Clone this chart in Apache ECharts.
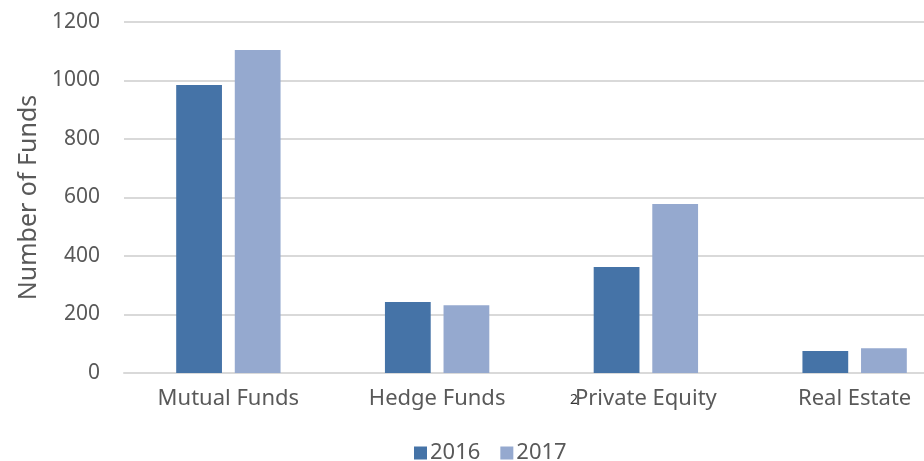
<!DOCTYPE html>
<html>
<head>
<meta charset="utf-8">
<script src="https://cdn.jsdelivr.net/npm/echarts@6/dist/echarts.min.js"></script>
<style>
  html, body { margin: 0; padding: 0; background: #fff; }
  #chart { width: 924px; height: 461px; }
</style>
</head>
<body>
<div id="chart"></div>
<script>
const categories = ['Mutual Funds', 'Hedge Funds', 'Private Equity', 'Real Estate'];
const years = ['2016', '2017'];
const funds2016 = [985, 243, 362, 75];
const funds2017 = [1104, 232, 578, 85];
const yTicks = { min: 0, max: 1200, step: 200 };

const colors = { '2016': '#4573A7', '2017': '#95A9CF' };
const font = '"Noto Sans", sans-serif';

const chart = echarts.init(document.getElementById('chart'));

chart.setOption({
  animation: false,
  textStyle: { fontFamily: font },
  // plot area runs past the right edge like the original
  grid: { left: 124, width: 835, top: 22, height: 351, outerBoundsMode: 'none', containLabel: false },
  legend: {
    top: 437,
    left: 409,
    itemWidth: 13,
    itemHeight: 13,
    itemGap: 20,
    icon: 'rect',
    textStyle: { fontSize: 22, color: '#595959', fontFamily: font, padding: [0, 0, 0, -2] },
    data: years
  },
  xAxis: {
    type: 'category',
    data: categories,
    axisLine: { lineStyle: { color: '#d9d9d9', width: 2 } },
    axisTick: { show: false },
    axisLabel: { fontSize: 22, color: '#595959', margin: 15 }
  },
  yAxis: {
    type: 'value',
    min: yTicks.min,
    max: yTicks.max,
    interval: yTicks.step,
    name: 'Number of Funds',
    nameLocation: 'middle',
    nameGap: 82,
    nameTextStyle: { fontSize: 25, color: '#595959' },
    axisLabel: { fontSize: 21, color: '#595959', margin: 24, formatter: v => String(v) },
    splitLine: { lineStyle: { color: '#d9d9d9', width: 2 } }
  },
  series: [
    {
      name: years[0],
      type: 'bar',
      data: funds2016,
      itemStyle: { color: colors['2016'] },
      barGap: '28%',
      barCategoryGap: '50%'
    },
    {
      name: years[1],
      type: 'bar',
      data: funds2017,
      itemStyle: { color: colors['2017'] }
    }
  ],
  graphic: [
    {
      type: 'text',
      left: 570,
      top: 393,
      style: { text: '2', fontSize: 14, fill: '#333', fontFamily: font }
    }
  ]
});
</script>
</body>
</html>
